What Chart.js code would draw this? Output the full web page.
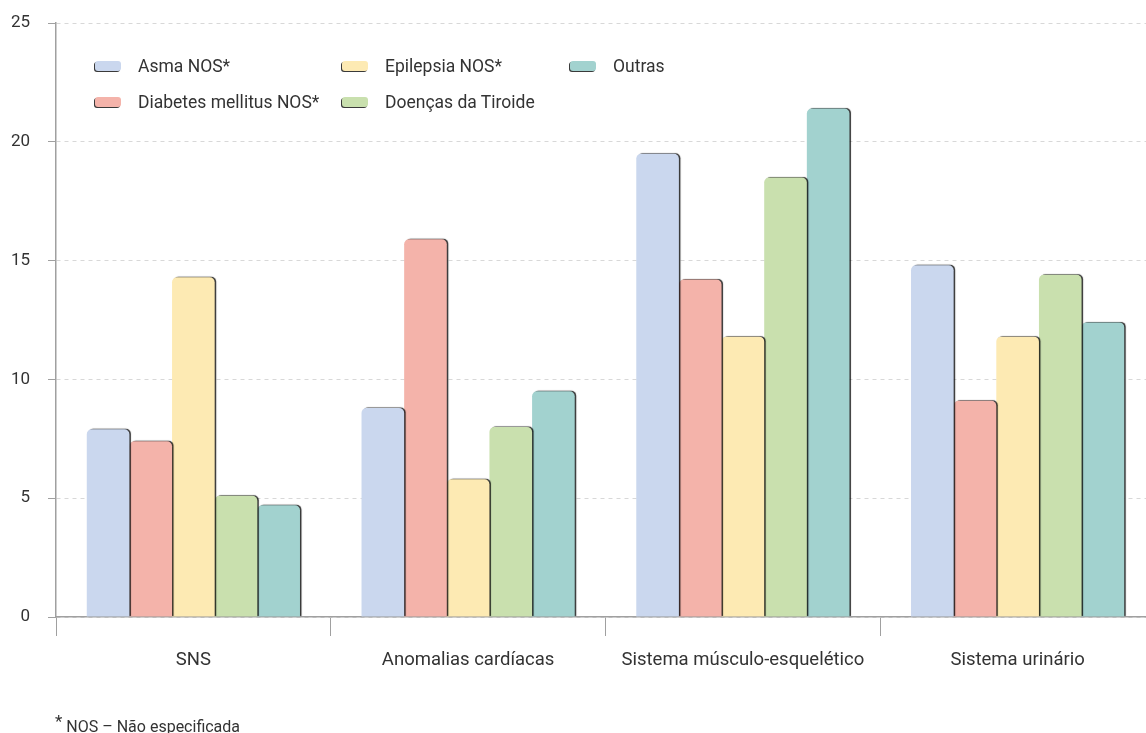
<!DOCTYPE html>
<html>
<head>
<meta charset="utf-8">
<script src="https://cdn.jsdelivr.net/npm/chart.js@4"></script>
<style>
  html, body { margin: 0; padding: 0; background: #fff; overflow: hidden; }
  #wrap { position: relative; width: 1155px; height: 733px; }
  .legend { position: absolute; left: 0; top: 0; font-family: Roboto, "Liberation Sans", sans-serif; font-size: 17.5px; color: #333; }
  .item { position: absolute; white-space: nowrap; line-height: 20px; }
  .sw { position: absolute; width: 26px; height: 10px; border-radius: 3px; box-shadow: -1px 1px 0 #3a3a3a; top: 5px; left: 0; }
  .lbl { position: absolute; left: 43px; top: 0; }
  .note { position: absolute; left: 55px; top: 710px; font-family: Roboto, "Liberation Sans", sans-serif; font-size: 16px; color: #333; white-space: nowrap; }
  .note sup { font-size: 17px; position: relative; top: 1px; margin-right: 4px; }
</style>
</head>
<body>
<div id="wrap">
  <canvas id="chart" width="1155" height="733"></canvas>
  <div class="legend" id="legend"></div>
  <div class="note"><sup>*</sup>NOS – Não especificada</div>
</div>
<script>
// ====== DATA ======
const categories = ["SNS", "Anomalias cardíacas", "Sistema músculo-esquelético", "Sistema urinário"];
const seriesNames = ["Asma NOS*", "Diabetes mellitus NOS*", "Epilepsia NOS*", "Doenças da Tiroide", "Outras"];
const asma = [7.9, 8.8, 19.5, 14.8];
const diabetes = [7.4, 15.9, 14.2, 9.1];
const epilepsia = [14.3, 5.8, 11.8, 11.8];
const tiroide = [5.1, 8.0, 18.5, 14.4];
const outras = [4.7, 9.5, 21.4, 12.4];
const colors = ["#cad7ee", "#f4b3aa", "#fdeab3", "#c9e0ae", "#a2d2cf"];

const allSeries = [asma, diabetes, epilepsia, tiroide, outras];

// Legenda manual (3 kolom, 2 baris)
const legendPos = [[95, 56], [95, 92], [342, 56], [342, 92], [570, 56]];
const legendEl = document.getElementById('legend');
seriesNames.forEach((name, i) => {
  const it = document.createElement('div');
  it.className = 'item';
  it.style.left = legendPos[i][0] + 'px';
  it.style.top = legendPos[i][1] + 'px';
  it.innerHTML = '<span class="sw" style="background:' + colors[i] + '"></span><span class="lbl">' + name + '</span>';
  legendEl.appendChild(it);
});

// Bayangan gelap di sisi kanan batang
const barShadow = {
  id: 'barShadow',
  beforeDatasetsDraw(chart) {
    const ctx = chart.ctx;
    ctx.save();
    ctx.shadowColor = 'rgba(0,0,0,0.8)';
    ctx.shadowOffsetX = 1.5;
    ctx.shadowOffsetY = -0.5;
    ctx.shadowBlur = 0.8;
  },
  afterDatasetsDraw(chart) {
    chart.ctx.restore();
  }
};

const font = { family: 'Roboto, "Liberation Sans", sans-serif' };

new Chart(document.getElementById('chart'), {
  type: 'bar',
  data: {
    labels: categories,
    datasets: allSeries.map((d, i) => ({
      label: seriesNames[i],
      data: d,
      backgroundColor: colors[i],
      borderWidth: 0,
      borderRadius: { topLeft: 5, topRight: 5, bottomLeft: 0, bottomRight: 0 },
      borderSkipped: 'start',
      barPercentage: 1,
      categoryPercentage: 0.776
    }))
  },
  options: {
    responsive: false,
    animation: false,
    layout: { padding: { top: 23, right: 0, left: 0, bottom: 0 } },
    plugins: { legend: { display: false }, tooltip: { enabled: false } },
    scales: {
      x: {
        offset: true,
        grid: { drawOnChartArea: false, offset: true, tickLength: 19, color: '#a0a0a0', lineWidth: 1 },
        border: { color: '#a0a0a0', width: 1.5 },
        ticks: { color: '#333', font: { ...font, size: 18.5 }, padding: 13 },
        afterFit(scale) { scale.height = 116; }
      },
      y: {
        min: 0,
        max: 25,
        grid: { color: '#d8d8d8', tickLength: 8, tickColor: '#a0a0a0', tickBorderDash: [] },
        border: { color: '#a0a0a0', width: 1.5, dash: [4, 4] },
        ticks: { stepSize: 5, color: '#333', font: { ...font, size: 17 }, padding: 18 },
        afterFit(scale) {
          scale.width = 56;
          scale.paddingTop = 10;
          scale.paddingBottom = 10;
        }
      }
    }
  },
  plugins: [barShadow]
});
</script>
</body>
</html>
